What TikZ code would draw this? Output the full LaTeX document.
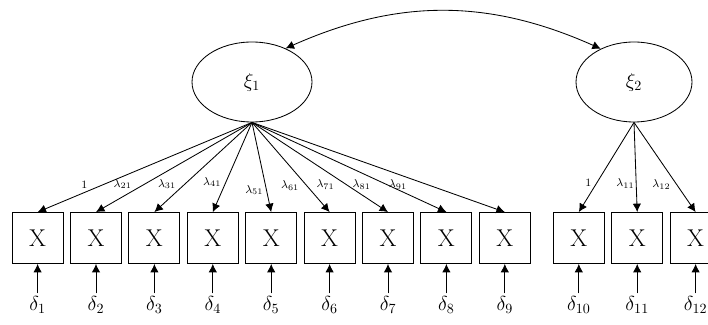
\documentclass[tikz,border=0pt]{standalone}
\usepackage{amsmath,amssymb}
\usepackage{xcolor}
\usepackage{tikz}
\usetikzlibrary{positioning,shapes.geometric,arrows.meta}

\begin{document}
\begin{tikzpicture}[->,>={Latex[length=6pt,width=6pt]},auto,semithick,
                    node distance=1.46cm,
                    latent/.style={ellipse,draw,minimum width=3cm,minimum height=2cm,font=\Large},
                    indicator/.style={rectangle,draw,minimum size=1.275cm,font=\LARGE},
                    errterm/.style={font=\Large,inner sep=2pt},
                    loading/.style={font=\footnotesize,inner sep=1pt,swap}]
    \useasboundingbox (0,0) rectangle (17.7,-8.125);

    \node[latent] (xi1) at (6.3,-2.05) {$\xi_1$};
    \node[latent,minimum width=2.9cm] (xi2) at (15.85,-2.05) {$\xi_2$};

    \node[indicator] (X1) at (0.94,-5.95) {X};
    \node[indicator] (X2) [right of=X1] {X};
    \node[indicator] (X3) [right of=X2] {X};
    \node[indicator] (X4) [right of=X3] {X};
    \node[indicator] (X5) [right of=X4] {X};
    \node[indicator] (X6) [right of=X5] {X};
    \node[indicator] (X7) [right of=X6] {X};
    \node[indicator] (X8) [right of=X7] {X};
    \node[indicator] (X9) [right of=X8] {X};
    \node[indicator] (X10) [right of=X9,node distance=1.85cm] {X};
    \node[indicator] (X11) [right of=X10] {X};
    \node[indicator] (X12) [right of=X11] {X};

    \node[errterm] (d1) [below of=X1,node distance=1.68cm] {$\delta_{1}$};
    \node[errterm] (d2) [below of=X2,node distance=1.68cm] {$\delta_{2}$};
    \node[errterm] (d3) [below of=X3,node distance=1.68cm] {$\delta_{3}$};
    \node[errterm] (d4) [below of=X4,node distance=1.68cm] {$\delta_{4}$};
    \node[errterm] (d5) [below of=X5,node distance=1.68cm] {$\delta_{5}$};
    \node[errterm] (d6) [below of=X6,node distance=1.68cm] {$\delta_{6}$};
    \node[errterm] (d7) [below of=X7,node distance=1.68cm] {$\delta_{7}$};
    \node[errterm] (d8) [below of=X8,node distance=1.68cm] {$\delta_{8}$};
    \node[errterm] (d9) [below of=X9,node distance=1.68cm] {$\delta_{9}$};
    \node[errterm] (d10) [below of=X10,node distance=1.68cm] {$\delta_{10}$};
    \node[errterm] (d11) [below of=X11,node distance=1.68cm] {$\delta_{11}$};
    \node[errterm] (d12) [below of=X12,node distance=1.68cm] {$\delta_{12}$};

    % loadings
    \path (xi1.south) edge node[loading,pos=.76] {$1$} (X1.north)
          (xi1.south) edge node[loading,pos=.76] {$\lambda_{21}$} (X2.north)
          (xi1.south) edge node[loading,pos=.76] {$\lambda_{31}$} (X3.north)
          (xi1.south) edge node[loading,pos=.74] {$\lambda_{41}$} (X4.north)
          (xi1.south) edge node[loading,pos=.68] {$\lambda_{51}$} (X5.north)
          (xi1.south) edge node[loading,pos=.63] {$\lambda_{61}$} (X6.north)
          (xi1.south) edge node[loading,pos=.62] {$\lambda_{71}$} (X7.north)
          (xi1.south) edge node[loading,pos=.62] {$\lambda_{81}$} (X8.north)
          (xi1.south) edge node[loading,pos=.62] {$\lambda_{91}$} (X9.north);
    \path (xi2.south) edge node[loading,pos=.74] {$1$} (X10.north)
          (xi2.south) edge node[loading,pos=.68] {$\lambda_{11}$} (X11.north)
          (xi2.south) edge node[loading,pos=.62] {$\lambda_{12}$} (X12.north);

    % errors
    \path (d1) edge (X1) (d2) edge (X2) (d3) edge (X3) (d4) edge (X4)
          (d5) edge (X5) (d6) edge (X6) (d7) edge (X7) (d8) edge (X8)
          (d9) edge (X9) (d10) edge (X10) (d11) edge (X11) (d12) edge (X12);

    \path (xi1.45) edge [<->,bend left=24] (xi2.135);
\end{tikzpicture}
\end{document}
